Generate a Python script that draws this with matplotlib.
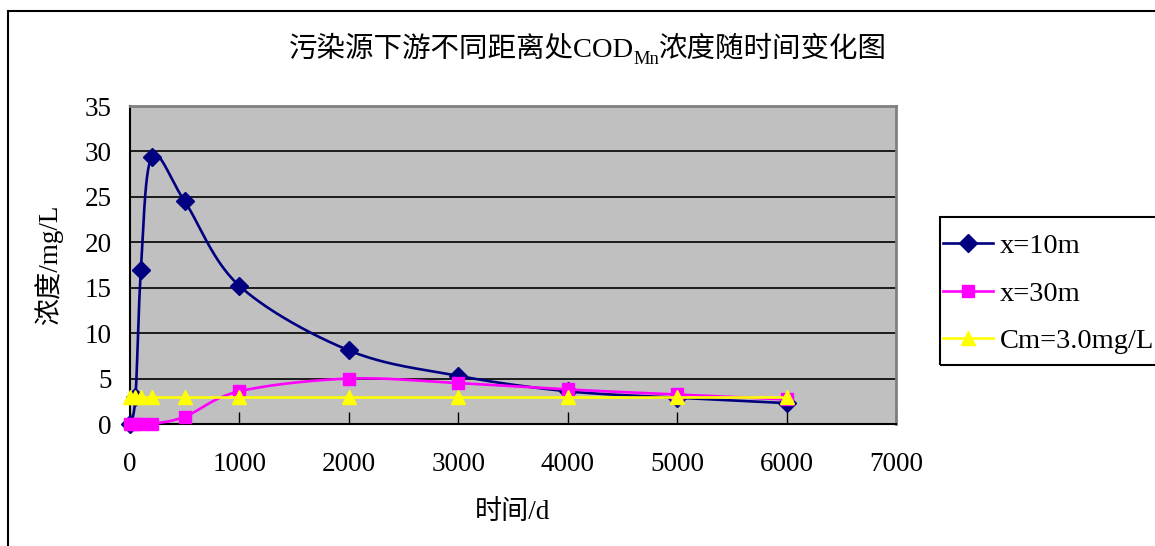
import numpy as np
import matplotlib
matplotlib.use('Agg')
import matplotlib.pyplot as plt
from matplotlib.lines import Line2D
from matplotlib.patches import Rectangle

plt.rcParams['font.family'] = ['Liberation Serif', 'Noto Sans CJK SC']
FS = 19.5

# 时间 (d)
days = [0, 50, 100, 200, 500, 1000, 2000, 3000, 4000, 5000, 6000]
# 浓度 (mg/L)
c_10m = [0, 3.0, 17.0, 29.4, 24.5, 15.2, 8.1, 5.3, 3.6, 2.9, 2.3]
c_30m = [0, 0, 0, 0, 0.8, 3.6, 5.0, 4.5, 3.8, 3.25, 2.7]
c_std = [3.0] * len(days)

series = [
    ('x=10m', c_10m, '#000080', 'D', 9),
    ('x=30m', c_30m, '#FF00FF', 's', 9),
    ('Cm=3.0mg/L', c_std, '#FFFF00', '^', 10),
]


def smooth(ax, xs, ys, n=40):
    # Bezier smoothing done in screen space, like spreadsheet "smoothed line"
    pts = ax.transData.transform(np.column_stack([xs, ys]))
    p = np.vstack([pts[0], pts, pts[-1]])
    t = np.linspace(0, 1, n)[:, None]
    segs = []
    for i in range(1, len(p) - 2):
        p0, p1, p2, p3 = p[i - 1], p[i], p[i + 1], p[i + 2]
        c1 = p1 + (p2 - p0) / 6
        c2 = p2 - (p3 - p1) / 6
        segs.append((1 - t) ** 3 * p1 + 3 * (1 - t) ** 2 * t * c1
                    + 3 * (1 - t) * t ** 2 * c2 + t ** 3 * p2)
    d = ax.transData.inverted().transform(np.vstack(segs))
    return d[:, 0], d[:, 1]


W, H = 1155, 546
fig = plt.figure(figsize=(W / 100, H / 100), dpi=100)
ax = fig.add_axes([130 / W, (H - 424) / H, 766 / W, 318 / H])
ax.set_facecolor('#C0C0C0')
ax.set_xlim(0, 7000)
ax.set_ylim(0, 35)
ax.set_xticks(range(0, 7001, 1000))
ax.set_yticks(range(0, 36, 5))
for y in range(5, 35, 5):
    ax.axhline(y, color='black', lw=1.2, zorder=1)

for s in ['top', 'right']:
    ax.spines[s].set_color('#808080')
    ax.spines[s].set_linewidth(2)
for s in ['left', 'bottom']:
    ax.spines[s].set_color('black')
    ax.spines[s].set_linewidth(1.5)
ax.tick_params(axis='x', direction='in', length=9, width=1, pad=20,
               labelsize=FS)
ax.tick_params(axis='y', length=0, pad=13, labelsize=FS)

handles = []
for i, (name, vals, col, mk, ms) in enumerate(series):
    sx, sy = smooth(ax, days, vals)
    ax.plot(sx, sy, color=col, lw=1.9, zorder=3 + i)
    ax.plot(days, vals, linestyle='none', marker=mk, ms=ms, color=col,
            mec=col, zorder=3 + i, clip_on=False)
    handles.append(Line2D([], [], color=col, lw=1.9, marker=mk, ms=ms,
                          mec=col, label=name))

ax.set_xlabel('时间/d', fontsize=FS)
ax.set_ylabel('浓度/mg/L', fontsize=FS)
ax.xaxis.set_label_coords(0.5, -(500 - 424) / 318)
ax.yaxis.set_label_coords(-(130 - 63) / 766, 0.5)

# legend entries without matplotlib's own frame; the box is drawn below
leg = ax.legend(handles=handles, loc='upper left',
                bbox_to_anchor=(940 / W, 1 - 230.5 / H),
                bbox_transform=fig.transFigure, fontsize=20.5,
                frameon=False, borderpad=0.1,
                handlelength=1.75, handletextpad=0.25, labelspacing=0.76,
                borderaxespad=0)
fig.patches.append(Rectangle((940 / W, 1 - 365 / H), 0.2, 148 / H,
                             transform=fig.transFigure, fill=False,
                             edgecolor='black', lw=1.5))

# title with subscript "Mn"
y_base = 1 - 57 / H
parts = [('污染源下游不同距离处COD', 20.5, 0), ('Mn', 20.5 * 0.65, -7),
         ('浓度随时间变化图', 20.5, 0)]
renderer = fig.canvas.get_renderer()
texts, widths = [], []
for txt, size, dy in parts:
    t = fig.text(0, y_base + dy / H, txt, fontsize=size, va='baseline')
    widths.append(t.get_window_extent(renderer).width)
    texts.append(t)
x = 588 - sum(widths) / 2
for t, w in zip(texts, widths):
    t.set_x(x / W)
    x += w

fig.patches.append(Rectangle((8 / W, -0.1), 1.2, 1.1 - 11 / H,
                             transform=fig.transFigure, fill=False,
                             edgecolor='black', lw=1.5))

fig.savefig('out.png', dpi=100)
